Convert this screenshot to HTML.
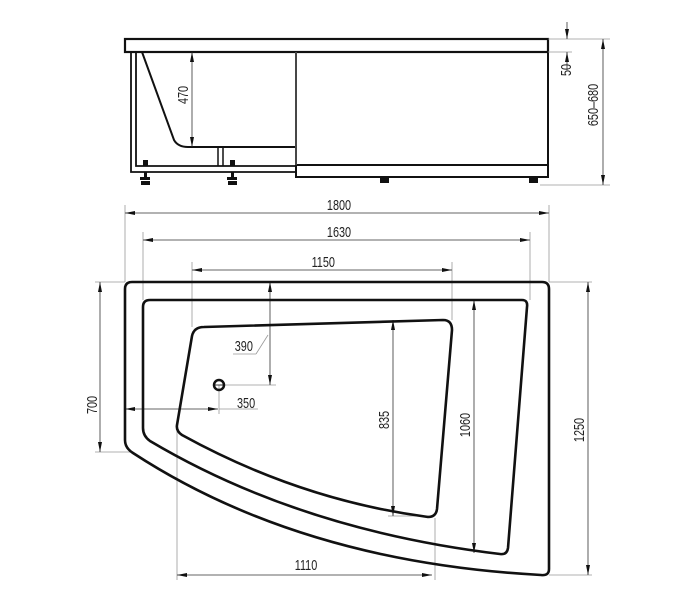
<!DOCTYPE html>
<html><head><meta charset="utf-8"><style>
html,body{margin:0;padding:0;background:#fff;}
svg{display:block}
text{font-family:"Liberation Sans",sans-serif;font-size:14.5px;fill:#222;}
</style></head><body>
<svg width="684" height="609" viewBox="0 0 684 609" xmlns="http://www.w3.org/2000/svg">
<defs>
<marker id="a" viewBox="0 0 10 4" refX="10" refY="2" markerWidth="10" markerHeight="4" orient="auto-start-reverse" markerUnits="userSpaceOnUse"><path d="M0,0 L10,2 L0,4 z" fill="#111"/></marker>
</defs>
<g fill="none" stroke="#111" stroke-width="2.2">
<rect x="125" y="39" width="423" height="13"/>
<rect x="296" y="52" width="252" height="125" stroke-width="2"/>
<line x1="296" y1="165" x2="548" y2="165" stroke-width="2"/>
<path d="M131 52 V172 H296 M136 52 V166 H296" stroke-width="1.8"/>
<path d="M142 52 L174 140 Q178 147 188 147 H296" stroke-width="2"/>
<path d="M218 147 V166 M223 147 V166" stroke-width="1.5"/>
</g>
<g fill="#111">
<rect x="143" y="160" width="5" height="6"/><rect x="144" y="172" width="3" height="6"/><rect x="140" y="177" width="10" height="3"/><rect x="141" y="181" width="9" height="4"/>
<rect x="230" y="160" width="5" height="6"/><rect x="231" y="172" width="3" height="6"/><rect x="227" y="177" width="10" height="3"/><rect x="228" y="181" width="9" height="4"/>
<rect x="380" y="178" width="9" height="5"/>
<rect x="529" y="178" width="9" height="5"/>
</g>
<g stroke="#999" stroke-width="0.8" fill="none">
<line x1="296" y1="52" x2="296" y2="165"/>
<line x1="548" y1="39" x2="610" y2="39"/>
<line x1="548" y1="52" x2="572" y2="52"/>
<line x1="540" y1="185" x2="610" y2="185"/>
<line x1="125" y1="205" x2="125" y2="282"/>
<line x1="549" y1="205" x2="549" y2="282"/>
<line x1="143" y1="232" x2="143" y2="300"/>
<line x1="530" y1="232" x2="530" y2="300"/>
<line x1="192" y1="262" x2="192" y2="327"/>
<line x1="452" y1="262" x2="452" y2="320"/>
<line x1="95" y1="282" x2="125" y2="282"/>
<line x1="95" y1="452" x2="130" y2="452"/>
<line x1="549" y1="282" x2="592" y2="282"/>
<line x1="549" y1="575" x2="592" y2="575"/>
<line x1="177" y1="430" x2="177" y2="580"/>
<line x1="435" y1="518" x2="435" y2="580"/>
<line x1="220" y1="385" x2="276" y2="385"/>
<line x1="219" y1="385" x2="219" y2="414"/>
<line x1="233" y1="354" x2="256" y2="354"/><line x1="256" y1="354" x2="268" y2="335"/>
<line x1="219" y1="409" x2="258" y2="409"/>
<line x1="388" y1="516" x2="430" y2="516"/>
</g>
<g stroke="#333" stroke-width="0.8" fill="none" marker-start="url(#a)" marker-end="url(#a)">
<line x1="192" y1="52" x2="192" y2="147"/>
<line x1="603" y1="39" x2="603" y2="185"/>
<line x1="125" y1="213" x2="549" y2="213"/>
<line x1="143" y1="240" x2="530" y2="240"/>
<line x1="192" y1="270" x2="452" y2="270"/>
<line x1="100" y1="282" x2="100" y2="452"/>
<line x1="588" y1="282" x2="588" y2="575"/>
<line x1="474" y1="300" x2="474" y2="553"/>
<line x1="393" y1="320" x2="393" y2="516"/>
<line x1="177" y1="575" x2="432" y2="575"/>
<line x1="270" y1="282" x2="270" y2="385"/>
<line x1="125" y1="409" x2="218" y2="409"/>
</g>
<g stroke="#333" stroke-width="0.8" fill="none" marker-end="url(#a)">
<line x1="567" y1="22" x2="567" y2="39"/>
<line x1="567" y1="70" x2="567" y2="52"/>
</g>
<g fill="none" stroke="#111" stroke-width="2.6" stroke-linejoin="round">
<path d="M132 282 H542 Q549 282 549 289 V569 Q549 576 541 575 Q300 562 133 453 Q125 448 125 440 V289 Q125 282 132 282 Z"/>
<path d="M150 300 H522 Q528 300 527 307 L508 548 Q507 555 500 554 Q300 530 150 441 Q143 436 143 428 V307 Q143 300 150 300 Z"/>
<path d="M204 327 L443 320 Q452 320 452 330 L437 509 Q436 517 428 517 Q300 500 182 435 Q176 431 177 425 L192 336 Q194 327 204 327 Z"/>
<circle cx="219" cy="385" r="5" stroke-width="2.5"/>
</g>
<line x1="214" y1="385" x2="224" y2="385" stroke="#111" stroke-width="0.8"/>
<g transform="scale(0.75,1)">
<text x="452" y="210" text-anchor="middle">1800</text>
<text x="452" y="237" text-anchor="middle">1630</text>
<text x="431" y="267" text-anchor="middle">1150</text>
<text x="313" y="351">390</text>
<text x="316" y="408">350</text>
<text x="408" y="570" text-anchor="middle">1110</text>
</g>
<text transform="translate(188,95) rotate(-90) scale(0.75,1)" text-anchor="middle">470</text>
<text transform="translate(571,70) rotate(-90) scale(0.75,1)" text-anchor="middle">50</text>
<text transform="translate(598,105) rotate(-90) scale(0.75,1)" text-anchor="middle">650–680</text>
<text transform="translate(97,405) rotate(-90) scale(0.75,1)" text-anchor="middle">700</text>
<text transform="translate(389,420) rotate(-90) scale(0.75,1)" text-anchor="middle">835</text>
<text transform="translate(470,425) rotate(-90) scale(0.75,1)" text-anchor="middle">1060</text>
<text transform="translate(584,430) rotate(-90) scale(0.75,1)" text-anchor="middle">1250</text>
</svg>
</body></html>
